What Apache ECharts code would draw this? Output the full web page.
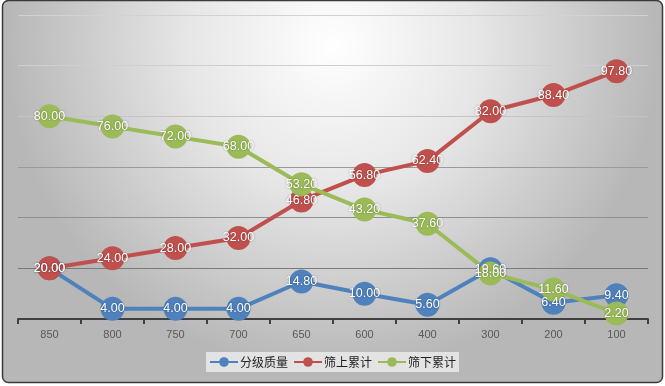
<!DOCTYPE html>
<html>
<head>
<meta charset="utf-8">
<script src="https://cdn.jsdelivr.net/npm/echarts@6/dist/echarts.min.js"></script>
<style>
html,body{margin:0;padding:0;background:#fff;}
#c{width:665px;height:386px;}
</style>
</head>
<body>
<div id="c"></div>
<script>
var categories = ['850','800','750','700','650','600','400','300','200','100'];
var seriesNames = ['分级质量','筛上累计','筛下累计'];
var gradeMass = [20.00, 4.00, 4.00, 4.00, 14.80, 10.00, 5.60, 19.60, 6.40, 9.40];
var cumOver = [20.00, 24.00, 28.00, 32.00, 46.80, 56.80, 62.40, 82.00, 88.40, 97.80];
var cumUnder = [80.00, 76.00, 72.00, 68.00, 53.20, 43.20, 37.60, 18.00, 11.60, 2.20];
var yTicks = [0, 20, 40, 60, 80, 100, 120];

var colors = ['#4F81BD', '#C0504D', '#9BBB59'];
var chart = echarts.init(document.getElementById('c'));

function mk(name, data, color) {
  return {
    name: name,
    type: 'line',
    data: data,
    symbol: 'circle',
    symbolSize: 24,
    itemStyle: { color: color },
    lineStyle: { color: color, width: 4 },
    label: {
      show: true,
      position: 'inside',
      color: '#fff',
      fontSize: 12.5,
      fontFamily: 'Liberation Sans',
      textShadowColor: 'rgba(0,0,0,0.4)',
      textShadowBlur: 2,
      formatter: function (p) { return p.value.toFixed(2); }
    },
    emphasis: { disabled: true },
    animation: false
  };
}

chart.setOption({
  animation: false,
  backgroundColor: '#fff',
  color: colors,
  graphic: [{
    type: 'rect',
    z: -10,
    silent: true,
    shape: { x: 2.5, y: 0.5, width: 660, height: 382, r: 6 },
    style: {
      fill: new echarts.graphic.RadialGradient(0.5, 0.12, 0.85, [
        { offset: 0, color: '#ffffff' },
        { offset: 0.45, color: '#e6e6e6' },
        { offset: 1, color: '#b7b7b7' }
      ]),
      stroke: '#3a3a3a',
      lineWidth: 1.5
    }
  }],
  grid: { left: 18, right: 17, top: 15, bottom: 67, containLabel: false },
  legend: {
    bottom: 14,
    left: 'center',
    data: seriesNames,
    itemWidth: 28,
    itemHeight: 12,
    itemGap: 5,
    backgroundColor: 'rgba(232,232,232,0.9)',
    padding: [4, 3],
    textStyle: { color: '#222', fontSize: 12, padding: [0, 0, 0, -3], fontFamily: 'Noto Sans CJK SC' }
  },
  xAxis: {
    type: 'category',
    data: categories,
    boundaryGap: true,
    axisLine: { lineStyle: { color: '#404040', width: 2 } },
    axisTick: { show: true, length: 5, lineStyle: { color: '#404040', width: 2 } },
    axisLabel: { color: '#595959', fontSize: 11, margin: 10, fontFamily: 'Liberation Sans' },
    splitLine: { show: false }
  },
  yAxis: {
    type: 'value',
    min: yTicks[0],
    max: yTicks[yTicks.length - 1],
    interval: 20,
    axisLine: { show: false },
    axisTick: { show: false },
    axisLabel: { show: false },
    splitLine: { lineStyle: { color: ['#808080', '#7a7a7a', '#909090', '#9a9a9a', '#c4c4c4', '#cfcfcf', '#d2d2d2'], width: 1 } }
  },
  series: [
    mk(seriesNames[0], gradeMass, colors[0]),
    mk(seriesNames[1], cumOver, colors[1]),
    mk(seriesNames[2], cumUnder, colors[2])
  ]
});
</script>
</body>
</html>
